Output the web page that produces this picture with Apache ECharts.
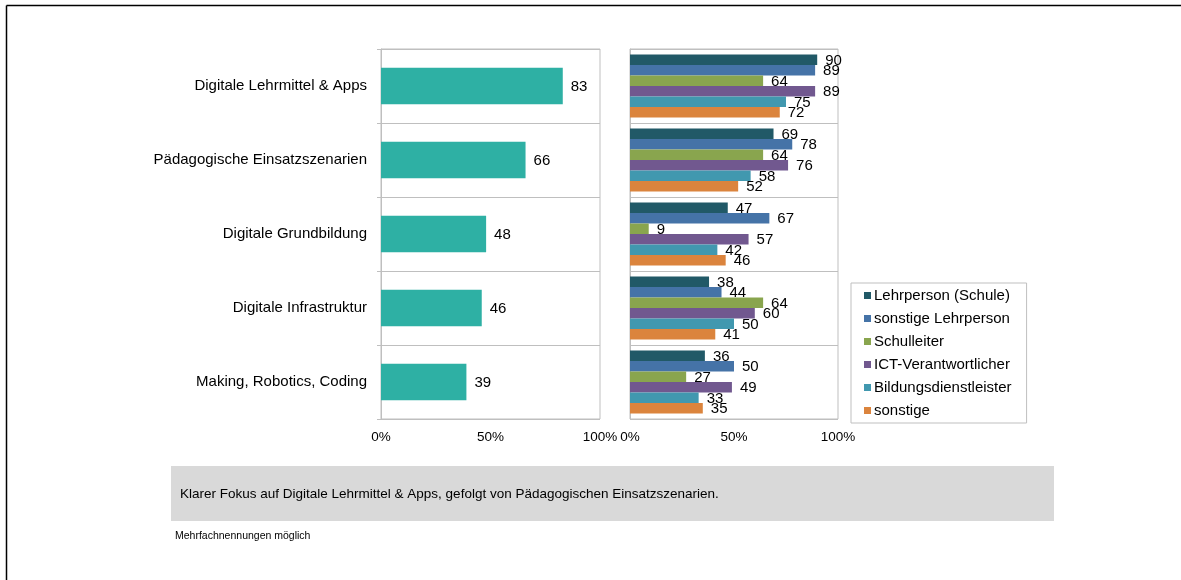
<!DOCTYPE html>
<html><head><meta charset="utf-8">
<script src="https://cdn.jsdelivr.net/npm/echarts@6/dist/echarts.min.js"></script>
<style>html,body{margin:0;padding:0;background:#fff}#c{width:1181px;height:580px}</style>
</head><body><div id="c"></div>
<script>
const categories = ['Digitale Lehrmittel & Apps','Pädagogische Einsatzszenarien','Digitale Grundbildung','Digitale Infrastruktur','Making, Robotics, Coding'];
const totalValues = [83, 66, 48, 46, 39];
const groupNames = ['Lehrperson (Schule)','sonstige Lehrperson','Schulleiter','ICT-Verantwortlicher','Bildungsdienstleister','sonstige'];
const lehrpersonSchule = [90, 69, 47, 38, 36];
const sonstigeLehrperson = [89, 78, 67, 44, 50];
const schulleiter = [64, 64, 9, 64, 27];
const ictVerantwortlicher = [89, 76, 57, 60, 49];
const bildungsdienstleister = [75, 58, 42, 50, 33];
const sonstige = [72, 52, 46, 41, 35];
const xTicks = [0, 50, 100];
const noteText = 'Klarer Fokus auf Digitale Lehrmittel & Apps, gefolgt von Pädagogischen Einsatzszenarien.';
const footText = 'Mehrfachnennungen möglich';

const groupData = [lehrpersonSchule, sonstigeLehrperson, schulleiter, ictVerantwortlicher, bildungsdienstleister, sonstige];
const groupColors = ['#215967','#4573A7','#89A54E','#71588F','#4198AF','#DB843D'];
const FONT = '"Liberation Sans", Arial, sans-serif';

const chart = echarts.init(document.getElementById('c'), null, {renderer:'canvas'});

function xAxisCfg(gridIndex){
  return {
    gridIndex, type:'value', min:xTicks[0], max:xTicks[xTicks.length-1], interval:50,
    axisLine:{show:false}, axisTick:{show:false}, splitLine:{show:false},
    axisLabel:{formatter:'{value}%', color:'#000', fontSize:13.5, fontFamily:FONT, margin:11}
  };
}

const series = [{
  type:'bar', xAxisIndex:0, yAxisIndex:0, data:totalValues, barCategoryGap:'51%',
  itemStyle:{color:'#2EB0A4'}, silent:true,
  label:{show:true, position:'right', distance:8, color:'#000', fontSize:15, fontFamily:FONT, offset:[0,1]}
}];
groupNames.forEach((n,i)=>{
  series.push({
    type:'bar', name:n, xAxisIndex:1, yAxisIndex:1, data:groupData[i],
    barCategoryGap:'15%', barGap:'0%',
    itemStyle:{color:groupColors[i]},
    label:{show:true, position:'right', distance:8, color:'#000', fontSize:15, fontFamily:FONT, offset:[0,1]}
  });
});

chart.setOption({
  animation:false,
  textStyle:{fontFamily:FONT},
  grid:[
    {left:381, top:49, width:219, height:370, show:true, borderColor:'#bfbfbf', borderWidth:1, containLabel:false},
    {left:630, top:49, width:208, height:370, show:true, borderColor:'#bfbfbf', borderWidth:1, containLabel:false}
  ],
  xAxis:[xAxisCfg(0), xAxisCfg(1)],
  yAxis:[
    {gridIndex:0, type:'category', data:categories, inverse:true,
     axisLine:{show:true, lineStyle:{color:'#bfbfbf'}},
     axisTick:{show:true, length:4, lineStyle:{color:'#bfbfbf'}},
     splitLine:{show:true, lineStyle:{color:'#bfbfbf'}},
     axisLabel:{color:'#000', fontSize:15, fontFamily:FONT, margin:14, padding:[2,0,0,0]}},
    {gridIndex:1, type:'category', data:categories, inverse:true,
     axisLine:{show:true, lineStyle:{color:'#bfbfbf'}},
     axisTick:{show:false},
     splitLine:{show:true, lineStyle:{color:'#bfbfbf'}},
     axisLabel:{show:false}}
  ],
  legend:{
    data:groupNames, orient:'vertical', left:851, top:283,
    icon:'rect', itemWidth:7, itemHeight:7, itemGap:8,
    padding:[5, 15, 5, 13],
    borderColor:'#bfbfbf', borderWidth:1,
    textStyle:{color:'#000', fontSize:15, fontFamily:FONT, padding:[0,0,0,-2]},
    selectedMode:false
  },
  series,
  graphic:[
    {type:'line', shape:{x1:6.5, y1:5.5, x2:1181, y2:5.5}, style:{stroke:'#000', lineWidth:1.5}},
    {type:'line', shape:{x1:6.5, y1:5.5, x2:6.5, y2:580}, style:{stroke:'#000', lineWidth:1.5}},
    {type:'rect', shape:{x:171, y:466, width:883, height:55}, style:{fill:'#d9d9d9'}},
    {type:'text', x:180, y:494, style:{text:noteText, fill:'#000', font:'13.5px '+FONT, textVerticalAlign:'middle'}},
    {type:'text', x:175, y:536, style:{text:footText, fill:'#000', font:'10.5px '+FONT, textVerticalAlign:'middle'}}
  ]
});
</script></body></html>
